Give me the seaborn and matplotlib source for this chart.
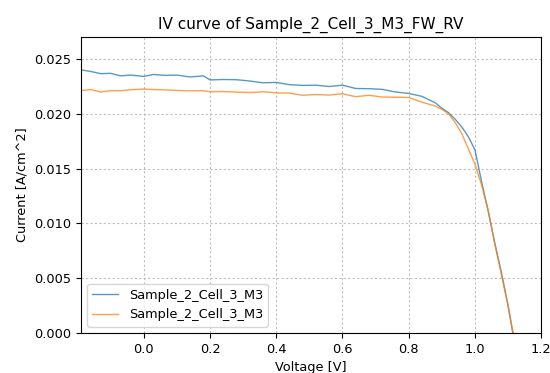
import numpy as np
import pandas as pd
import matplotlib
matplotlib.use('Agg')
import matplotlib.pyplot as plt
import seaborn as sns

# IV data
voltage = [-0.19, -0.16, -0.13, -0.10, -0.07, -0.04, 0.00, 0.03, 0.06, 0.10,
           0.14, 0.18, 0.20, 0.24, 0.28, 0.32, 0.36, 0.40, 0.44, 0.48,
           0.52, 0.56, 0.60, 0.64, 0.68, 0.72, 0.76, 0.80, 0.84, 0.88,
           0.90, 0.92, 0.94, 0.96, 0.98, 1.00, 1.02, 1.04, 1.06, 1.08,
           1.10, 1.12]
current_fw = [0.02400, 0.02385, 0.02365, 0.02368, 0.02345, 0.02352, 0.02340, 0.02358, 0.02350, 0.02352,
              0.02335, 0.02345, 0.02308, 0.02312, 0.02310, 0.02298, 0.02282, 0.02285, 0.02265, 0.02258,
              0.02260, 0.02248, 0.02260, 0.02230, 0.02228, 0.02222, 0.02198, 0.02185, 0.02158, 0.02100,
              0.02050, 0.02010, 0.01950, 0.01880, 0.01790, 0.01670, 0.01380, 0.01110, 0.00820, 0.00550,
              0.00250, -0.00100]
current_rv = [0.02212, 0.02220, 0.02198, 0.02210, 0.02210, 0.02218, 0.02225, 0.02220, 0.02218, 0.02212,
              0.02208, 0.02210, 0.02200, 0.02202, 0.02197, 0.02193, 0.02200, 0.02190, 0.02188, 0.02168,
              0.02175, 0.02170, 0.02182, 0.02155, 0.02168, 0.02152, 0.02150, 0.02148, 0.02105, 0.02070,
              0.02040, 0.02000, 0.01920, 0.01820, 0.01680, 0.01540, 0.01350, 0.01120, 0.00810, 0.00530,
              0.00250, -0.00080]
label = "Sample_2_Cell_3_M3"

df_fw = pd.DataFrame({'Voltage': voltage, 'Current': current_fw})
df_rv = pd.DataFrame({'Voltage': voltage, 'Current': current_rv})

fig = plt.figure(figsize=(5.5, 3.73), dpi=100)
ax = fig.add_axes([0.147, 0.107, 0.837, 0.794])

sns.lineplot(data=df_fw, x='Voltage', y='Current', ax=ax, color='#1f77b4',
             alpha=0.75, linewidth=1, label=label)
sns.lineplot(data=df_rv, x='Voltage', y='Current', ax=ax, color='#ff7f0e',
             alpha=0.75, linewidth=1, label=label)

ax.set_xlim(-0.19, 1.2)
ax.set_ylim(0, 0.027)
ax.set_xticks([0.0, 0.2, 0.4, 0.6, 0.8, 1.0, 1.2])
ax.set_yticks([0.0, 0.005, 0.010, 0.015, 0.020, 0.025])
ax.yaxis.set_major_formatter(matplotlib.ticker.FormatStrFormatter('%.3f'))
ax.xaxis.set_major_formatter(matplotlib.ticker.FormatStrFormatter('%.1f'))
ax.tick_params(labelsize=9.3)
ax.grid(True, linestyle=(0, (2, 2)), color='0.75', linewidth=0.8)

ax.set_title("IV curve of Sample_2_Cell_3_M3_FW_RV", fontsize=11)
ax.set_xlabel("Voltage [V]", fontsize=9.3)
ax.set_ylabel("Current [A/cm^2]", fontsize=9.3)
ax.legend(loc='lower left', fontsize=9.3)

fig.savefig('out.png', dpi=100)
